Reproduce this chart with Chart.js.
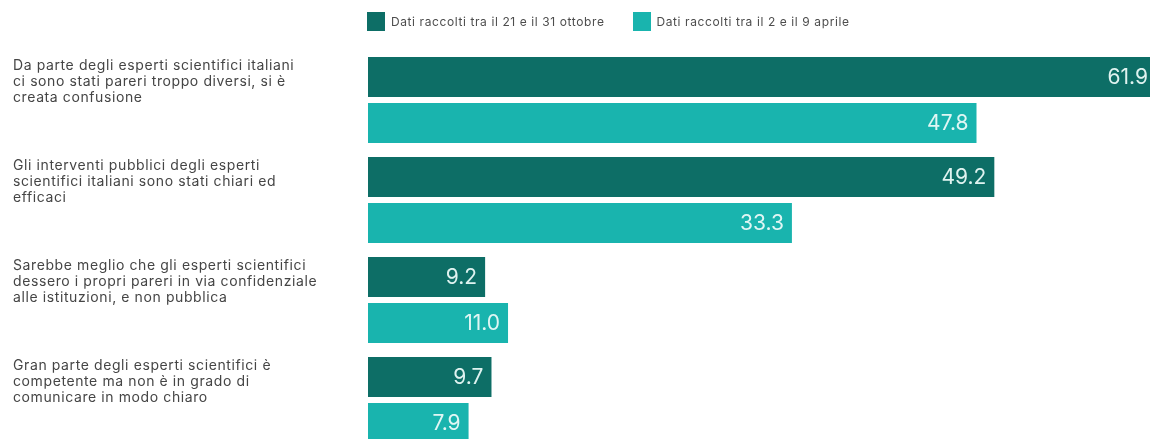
<!DOCTYPE html>
<html lang="it">
<head>
<meta charset="utf-8">
<title>Esperti scientifici</title>
<script src="https://cdn.jsdelivr.net/npm/chart.js@4.4.1/dist/chart.umd.min.js"></script>
<style>
  html, body { margin: 0; padding: 0; background: #fff; overflow: hidden; }
  #wrap { position: relative; width: 1160px; height: 450px; }
  #legend { position: absolute; top: 12px; left: 367px; display: flex; font-family: Inter, "Noto Sans", sans-serif; font-size: 12px; letter-spacing: 0.6px; color: #4d4d4d; }
  .item { display: flex; align-items: center; margin-right: 28px; }
  .swatch { width: 18px; height: 19px; margin-right: 6px; }
</style>
</head>
<body>
<div id="wrap">
  <div id="legend"></div>
  <canvas id="chart" width="1160" height="450"></canvas>
</div>
<script>
// Statements shown on the left, one entry per line of text
const categories = [
    ['Da parte degli esperti scientifici italiani', 'ci sono stati pareri troppo diversi, si è', 'creata confusione'],
    ['Gli interventi pubblici degli esperti', 'scientifici italiani sono stati chiari ed', 'efficaci'],
    ['Sarebbe meglio che gli esperti scientifici', 'dessero i propri pareri in via confidenziale', 'alle istituzioni, e non pubblica'],
    ['Gran parte degli esperti scientifici è', 'competente ma non è in grado di', 'comunicare in modo chiaro']
];

const seriesNames = ['Dati raccolti tra il 21 e il 31 ottobre', 'Dati raccolti tra il 2 e il 9 aprile'];
const octoberValues = [61.9, 49.2, 9.2, 9.7];
const aprilValues = [47.8, 33.3, 11.0, 7.9];
const seriesColors = ['#0d6e66', '#19b4ae'];

// Values written at the end of each bar
const barValueLabels = {
    id: 'barValueLabels',
    afterDatasetsDraw(chart) {
        const ctx = chart.ctx;
        ctx.save();
        ctx.font = '21px Inter, "Noto Sans", sans-serif';
        ctx.fillStyle = 'rgba(235, 250, 248, 0.95)';
        ctx.textAlign = 'right';
        ctx.textBaseline = 'middle';
        chart.data.datasets.forEach((ds, d) => {
            chart.getDatasetMeta(d).data.forEach((bar, i) => {
                ctx.fillText(ds.data[i].toFixed(1), bar.x - 8, bar.y + 1);
            });
        });
        ctx.restore();
    }
};

// Statement text, aligned with the top of each group of bars
const categoryText = {
    id: 'categoryText',
    afterDraw(chart) {
        const ctx = chart.ctx;
        const meta = chart.getDatasetMeta(0);
        ctx.save();
        ctx.font = '14px Inter, "Noto Sans", sans-serif';
        ctx.letterSpacing = '0.6px';
        ctx.fillStyle = '#454545';
        ctx.textAlign = 'left';
        ctx.textBaseline = 'middle';
        chart.data.labels.forEach((lines, i) => {
            const bar = meta.data[i];
            const top = bar.y - bar.height / 2;
            lines.forEach((line, k) => {
                ctx.fillText(line, 13, top + 9 + k * 16);
            });
        });
        ctx.restore();
    }
};

// Legend built as plain markup above the canvas
const legendEl = document.getElementById('legend');
seriesNames.forEach((name, i) => {
    const item = document.createElement('div');
    item.className = 'item';
    const sw = document.createElement('span');
    sw.className = 'swatch';
    sw.style.background = seriesColors[i];
    const txt = document.createElement('span');
    txt.textContent = name;
    item.appendChild(sw);
    item.appendChild(txt);
    legendEl.appendChild(item);
});

const ctx = document.getElementById('chart').getContext('2d');
const chart = new Chart(ctx, {
    type: 'bar',
    data: {
        labels: categories,
        datasets: [
            {
                label: seriesNames[0],
                data: octoberValues,
                backgroundColor: seriesColors[0],
                categoryPercentage: 0.92,
                barPercentage: 0.87
            },
            {
                label: seriesNames[1],
                data: aprilValues,
                backgroundColor: seriesColors[1],
                categoryPercentage: 0.92,
                barPercentage: 0.87
            }
        ]
    },
    options: {
        indexAxis: 'y',
        responsive: false,
        animation: false,
        devicePixelRatio: 1,
        layout: {
            padding: { top: 50, right: 4, bottom: 0, left: 0 }
        },
        plugins: {
            legend: { display: false },
            tooltip: { enabled: false }
        },
        scales: {
            x: {
                display: false,
                min: 0,
                max: 61.9
            },
            y: {
                grid: { display: false },
                border: { display: false },
                ticks: { display: false },
                afterFit(scale) {
                    scale.width = 368;
                }
            }
        }
    },
    plugins: [barValueLabels, categoryText]
});
</script>
</body>
</html>
